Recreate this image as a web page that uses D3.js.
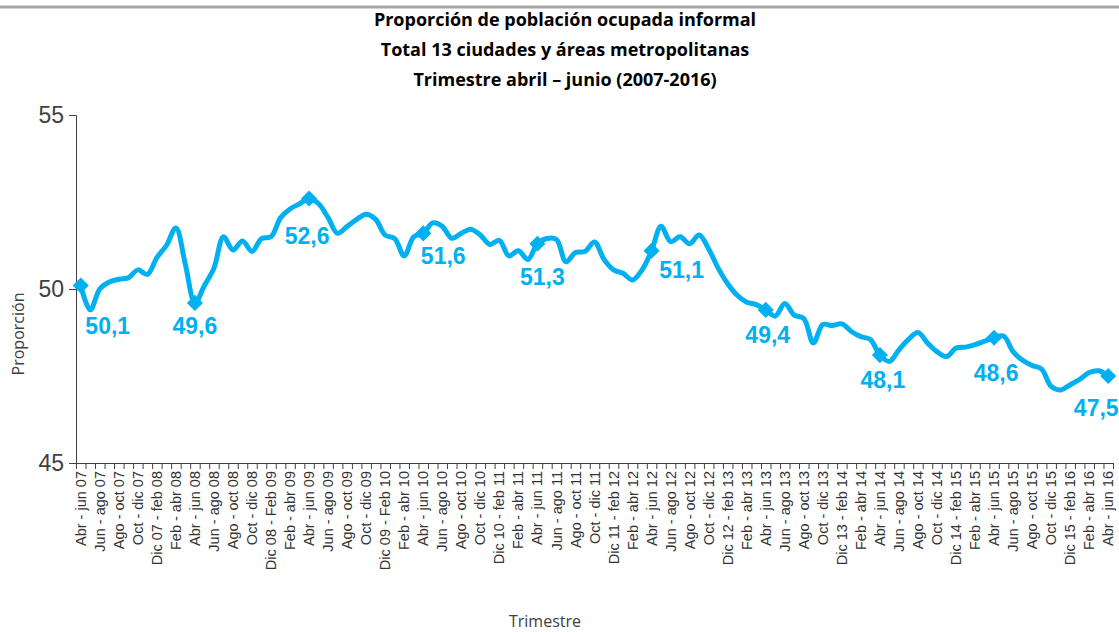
<!DOCTYPE html>
<html>
<head>
<meta charset="utf-8">
<script src="https://cdn.jsdelivr.net/npm/d3@7"></script>
<style>
  body { margin: 0; background: #fff; }
  svg { display: block; }
</style>
</head>
<body>
<svg width="1119" height="632"></svg>
<script>
// Proporcion de poblacion ocupada informal, trimestre movil (109 trimestres)
var values = [
  50.1, 49.4, 50.0, 50.2, 50.28, 50.32, 50.55, 50.42, 50.9, 51.25,
  51.75, 50.7, 49.6, 50.1, 50.6, 51.5, 51.12, 51.38, 51.08, 51.45,
  51.5, 52.05, 52.3, 52.45, 52.6, 52.45, 52.05, 51.6, 51.8, 52.0,
  52.15, 52.0, 51.55, 51.45, 50.95, 51.5, 51.6, 51.9, 51.8, 51.46,
  51.6, 51.72, 51.55, 51.28, 51.4, 50.95, 51.1, 50.85, 51.3, 51.45,
  51.42, 50.78, 51.05, 51.08, 51.35, 50.85, 50.55, 50.45, 50.26, 50.55,
  51.1, 51.8, 51.36, 51.5, 51.3, 51.55, 51.15, 50.6, 50.15, 49.82,
  49.62, 49.55, 49.4, 49.22, 49.58, 49.25, 49.15, 48.45, 48.98, 48.95,
  49.0, 48.78, 48.63, 48.55, 48.1, 47.92, 48.25, 48.55, 48.75, 48.45,
  48.2, 48.06, 48.3, 48.33, 48.4, 48.5, 48.6, 48.65, 48.2, 47.95,
  47.8, 47.7, 47.2, 47.1, 47.25, 47.4, 47.6, 47.65, 47.5
];

// etiquetas visibles (una cada dos trimestres)
var tickLabels = [
  "Abr - jun 07", "Jun - ago 07", "Ago - oct 07", "Oct - dic 07", "Dic 07 - feb 08",
  "Feb - abr 08", "Abr - jun 08", "Jun - ago 08", "Ago - oct 08", "Oct - dic 08",
  "Dic 08 - Feb 09", "Feb - abr 09", "Abr - jun 09", "Jun - ago 09", "Ago - oct 09",
  "Oct - dic 09", "Dic 09 - Feb 10", "Feb - abr 10", "Abr - jun 10", "Jun - ago 10",
  "Ago - oct 10", "Oct - dic 10", "Dic 10 - feb 11", "Feb - abr 11", "Abr - jun 11",
  "Jun - ago 11", "Ago - oct 11", "Oct - dic 11", "Dic 11 - feb 12", "Feb - abr 12",
  "Abr - jun 12", "Jun - ago 12", "Ago - oct 12", "Oct - dic 12", "Dic 12 - feb 13",
  "Feb - abr 13", "Abr - jun 13", "Jun - ago 13", "Ago - oct 13", "Oct - dic 13",
  "Dic 13 - feb 14", "Feb - abr 14", "Abr - jun 14", "Jun - ago 14", "Ago - oct 14",
  "Oct - dic 14", "Dic 14 - feb 15", "Feb - abr 15", "Abr - jun 15", "Jun - ago 15",
  "Ago - oct 15", "Oct - dic 15", "Dic 15 - feb 16", "Feb - abr 16", "Abr - jun 16"
];

// trimestres abril - junio marcados con rombo
var markedIdx = [0, 12, 24, 36, 48, 60, 72, 84, 96, 108];

var yTicks = [45, 50, 55];

var svg = d3.select("svg"),
    width = +svg.attr("width"),
    height = +svg.attr("height"),
    margin = {top: 115, right: 6, bottom: 169, left: 76};

var blue = "#00b0f0",
    axisColor = "#404040",
    textColor = "#404040";

var n = values.length;

var x = d3.scaleBand()
    .domain(d3.range(n))
    .range([margin.left, width - margin.right]);

// para las marcas entre categorias
var xEdge = d3.scaleLinear()
    .domain([0, n])
    .range([margin.left, width - margin.right]);

var y = d3.scaleLinear()
    .domain([45, 55])
    .range([height - margin.bottom, margin.top]);

function cx(i) { return x(i) + x.bandwidth() / 2; }

// linea gris superior
svg.append("line")
    .attr("x1", 0).attr("x2", width)
    .attr("y1", 7).attr("y2", 7)
    .attr("stroke", "#a6a6a6")
    .attr("stroke-width", 3);

// titulo
var titles = ["Proporción de población ocupada informal",
              "Total 13 ciudades y áreas metropolitanas",
              "Trimestre abril – junio (2007-2016)"];
svg.append("g").selectAll("text")
    .data(titles).enter()
    .append("text")
    .attr("x", 565)
    .attr("y", function(d, i) { return 26 + i * 30; })
    .attr("text-anchor", "middle")
    .style("font-family", "'Open Sans', sans-serif")
    .style("font-weight", "bold")
    .style("font-size", "18px")
    .style("fill", "#000")
    .text(function(d) { return d; });

// eje y
var yAxis = svg.append("g")
    .attr("class", "y axis")
    .attr("transform", "translate(" + margin.left + ",0)")
    .call(d3.axisLeft(y).tickValues(yTicks).tickSize(7).tickPadding(5));
yAxis.select(".domain").attr("stroke", axisColor);
yAxis.selectAll(".tick line").attr("stroke", axisColor);
yAxis.selectAll("text")
    .style("font-family", "'Liberation Sans', Arial, sans-serif")
    .style("font-size", "23px")
    .style("fill", textColor);

// eje x: marcas en cada trimestre
var xTicks = svg.append("g")
    .attr("class", "x axis")
    .attr("transform", "translate(0," + (height - margin.bottom) + ")")
    .call(d3.axisBottom(xEdge).tickValues(d3.range(n + 1)).tickSize(6).tickFormat(""));
xTicks.select(".domain").attr("stroke", axisColor);
xTicks.selectAll(".tick line").attr("stroke", axisColor);

// etiquetas del eje x
var labelIdx = tickLabels.map(function(d, k) { return k * 2; });
var xLabels = svg.append("g")
    .attr("transform", "translate(0," + (height - margin.bottom) + ")")
    .call(d3.axisBottom(x).tickValues(labelIdx).tickSize(0)
        .tickFormat(function(i) { return tickLabels[i / 2]; }));
xLabels.select(".domain").remove();
xLabels.selectAll("text")
    .attr("transform", "rotate(-90)")
    .attr("x", -8)
    .attr("y", 0)
    .attr("dy", "0.35em")
    .attr("text-anchor", "end")
    .style("font-family", "'Liberation Sans', Arial, sans-serif")
    .style("font-size", "14.5px")
    .style("fill", "#333");

// titulos de ejes
svg.append("text")
    .attr("transform", "translate(24,334) rotate(-90)")
    .attr("text-anchor", "middle")
    .style("font-family", "'Open Sans', sans-serif")
    .style("font-size", "16px")
    .style("fill", textColor)
    .text("Proporción");

svg.append("text")
    .attr("x", 545)
    .attr("y", 627)
    .attr("text-anchor", "middle")
    .style("font-family", "'Open Sans', sans-serif")
    .style("font-size", "16px")
    .style("fill", textColor)
    .text("Trimestre");

// linea
var line = d3.line()
    .x(function(d, i) { return cx(i); })
    .y(function(d) { return y(d); })
    .curve(d3.curveCatmullRom.alpha(0.5));

svg.append("path")
    .datum(values)
    .attr("fill", "none")
    .attr("stroke", blue)
    .attr("stroke-width", 5)
    .attr("stroke-linejoin", "round")
    .attr("stroke-linecap", "round")
    .attr("d", line);

// rombos
svg.append("g").selectAll("path")
    .data(markedIdx).enter()
    .append("path")
    .attr("transform", function(i) { return "translate(" + cx(i) + "," + y(values[i]) + ") rotate(45)"; })
    .attr("d", d3.symbol().type(d3.symbolSquare).size(130))
    .attr("fill", blue);

// etiquetas de datos (posiciones ajustadas a mano)
var labelShift = [[27, 40], [0, 23], [-2, 37], [20, 22], [5, 33],
                  [30, 19], [2, 25], [3, 25], [2, 35], [-12, 32]];
var fmt = d3.format(".1f");
svg.append("g").selectAll("text")
    .data(markedIdx).enter()
    .append("text")
    .attr("x", function(i, k) { return cx(i) + labelShift[k][0]; })
    .attr("y", function(i, k) { return y(values[i]) + labelShift[k][1]; })
    .attr("dy", "0.36em")
    .attr("text-anchor", "middle")
    .style("font-family", "'Liberation Sans', Arial, sans-serif")
    .style("font-weight", "bold")
    .style("font-size", "23px")
    .style("fill", blue)
    .text(function(i) { return fmt(values[i]).replace(".", ","); });
</script>
</body>
</html>
